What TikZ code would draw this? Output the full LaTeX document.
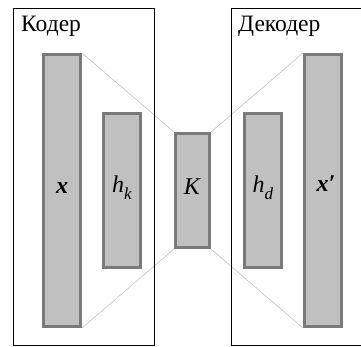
\documentclass[tikz,border=0pt]{standalone}
\usepackage{fontspec}
\setmainfont{Liberation Serif}
\begin{document}
\begin{tikzpicture}[x=1pt,y=-1pt,
  bar/.style={draw=barborder,fill=barfill,line width=3pt,inner sep=0pt,minimum width=37pt,anchor=center},
  link/.style={draw=linkgray,line width=0.6pt},
  frame/.style={draw=black,line width=1pt},
  title/.style={anchor=base west,inner sep=0pt,font=\fontsize{23.5}{26}\selectfont},
  lbl/.style={font=\fontsize{24}{26}\selectfont,inner sep=0pt}]
\definecolor{barfill}{HTML}{C0C0C0}
\definecolor{barborder}{HTML}{7A7A7A}
\definecolor{linkgray}{HTML}{C4C4C4}
\useasboundingbox (0,0) rectangle (361,347);
% bars
\node[bar,minimum height=272pt] (bx) at (62,190.5) {};
\node[bar,minimum height=154pt] (bhk) at (122,190.5) {};
\node[bar,minimum height=114pt,minimum width=34pt] (bK) at (192.5,190.5) {};
\node[bar,minimum height=154pt] (bhd) at (263,190.5) {};
\node[bar,minimum height=272pt] (bxp) at (323,190.5) {};
% links
\draw[link] (bx.north east) -- (bK.north west);
\draw[link] (bx.south east) -- (bK.south west);
\draw[link] (bK.north east) -- (bxp.north west);
\draw[link] (bK.south east) -- (bxp.south west);
% frames
\draw[frame] (13,9) rectangle (154,345.5);
\draw[frame] (231,9) rectangle (365,345.5);
\node[title] (tenc) at (21,32) {Кодер};
\node[title] (tdec) at (238,32) {Декодер};
% labels
\node[lbl,anchor=base] (lx) at (62,194) {\textbf{\textit{x}}};
\node[lbl,anchor=base] (lhk) at (122,193) {\textit{h}\raisebox{-0.55ex}{\fontsize{17}{18}\selectfont\textit{k}}};
\node[lbl,anchor=base] (lK) at (192.5,195) {\textit{K}};
\node[lbl,anchor=base] (lhd) at (263,193) {\textit{h}\raisebox{-0.55ex}{\fontsize{17}{18}\selectfont\textit{d}}};
\node[lbl,anchor=base] (lxp) at (326,192) {\textbf{\textit{x′}}};
\end{tikzpicture}
\end{document}
